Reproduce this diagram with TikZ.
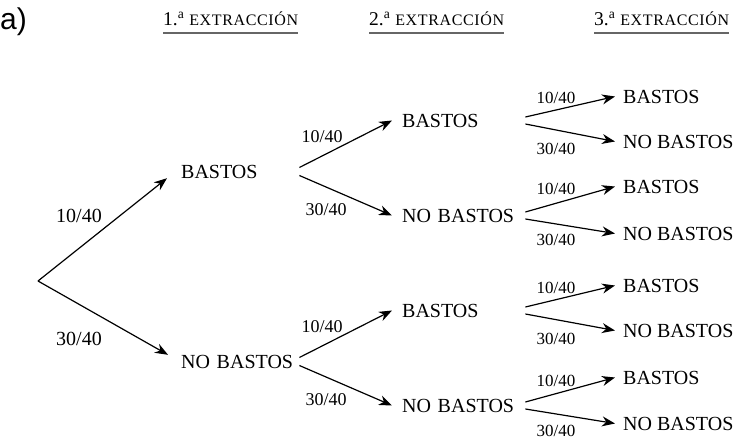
\documentclass[tikz,border=0pt]{standalone}
\usepackage{fontspec}
\setmainfont{Liberation Serif}
\newfontfamily\tagfont{Liberation Sans}
\usetikzlibrary{arrows.meta}

\tikzset{
	res/.style={font=\fontsize{20}{22}\selectfont, inner sep=0pt, text height=13pt, text depth=0pt, anchor=base west},
	fork1/.style={res, text width=118pt, align=left},
	fork2/.style={res, text width=123pt, align=left},
	prob/.style={font=\fontsize{#1}{#1}\selectfont, inner sep=0pt, anchor=base},
	arr/.style={-{Stealth[length=13pt,width=10pt]}, line width=1.2pt},
	hdr/.style={font=\fontsize{19.5}{22}\selectfont, inner sep=0pt, anchor=base west},
	rule/.style={draw=black!60, line width=2pt}
}
\newcommand{\extr}[1]{#1.\textsuperscript{a} {\fontsize{16}{18}\selectfont\addfontfeature{LetterSpace=4}EXTRACCIÓN}}

\begin{document}
\begin{tikzpicture}[x=1pt,y=-1pt]
	\useasboundingbox (0,0) rectangle (740,439);

	% cabecera
	\node[font=\tagfont\fontsize{30}{32}\selectfont, inner sep=0pt, anchor=base west] (tag) at (0,29) {a)};
	\node[hdr] (h1) at (163,26) {\extr{1}};
	\node[hdr] (h2) at (369,26) {\extr{2}};
	\node[hdr] (h3) at (594,26) {\extr{3}};
	\path[rule] ([yshift=-7pt]h1.south west) edge ([yshift=-7pt]h1.south east);
	\path[rule] ([yshift=-7pt]h2.south west) edge ([yshift=-7pt]h2.south east);
	\path[rule] ([yshift=-7pt]h3.south west) edge ([yshift=-7pt]h3.south east);

	\coordinate (o) at (38,281);

	% 1.a extraccion
	\node[fork1] (b) at (181,178) {BASTOS};
	\node[fork1] (n) at (181,368) {NO BASTOS};

	% 2.a extraccion
	\node[fork2] (bb) at (402,127) {BASTOS};
	\node[fork2] (bn) at (402,222) {NO BASTOS};
	\node[fork2] (nb) at (402,317) {BASTOS};
	\node[fork2] (nn) at (402,412) {NO BASTOS};

	% 3.a extraccion
	\node[res] (bbb) at (623,103) {BASTOS};
	\node[res] (bbn) at (623,148) {NO BASTOS};
	\node[res] (bnb) at (623,193) {BASTOS};
	\node[res] (bnn) at (623,240) {NO BASTOS};
	\node[res] (nbb) at (623,292) {BASTOS};
	\node[res] (nbn) at (623,337) {NO BASTOS};
	\node[res] (nnb) at (623,384) {BASTOS};
	\node[res] (nnn) at (623,430) {NO BASTOS};

	% probabilidades
	\node[prob=20] (p) at (79,222) {10/40};
	\node[prob=20] (q) at (79,345) {30/40};
	\node[prob=18] (bp) at (322,142) {10/40};
	\node[prob=18] (bq) at (326,215) {30/40};
	\node[prob=18] (np) at (322,332) {10/40};
	\node[prob=18] (nq) at (326,405) {30/40};
	\node[prob=17] (bbp) at (556,103) {10/40};
	\node[prob=17] (bbq) at (556,154) {30/40};
	\node[prob=17] (bnp) at (556,194) {10/40};
	\node[prob=17] (bnq) at (556,245) {30/40};
	\node[prob=17] (nbp) at (556,293) {10/40};
	\node[prob=17] (nbq) at (556,344) {30/40};
	\node[prob=17] (nnp) at (556,386) {10/40};
	\node[prob=17] (nnq) at (556,436) {30/40};

	\path[arr] (o) edge ([xshift=-14pt]b.south west);
	\path[arr] (o) edge ([xshift=-13pt]n.north west);

	\path[arr] ([yshift=4pt]b.east) edge ([xshift=-10pt]bb.west);
	\path[arr] ([yshift=-4pt]b.east) edge ([xshift=-10pt]bn.west);
	\path[arr] ([yshift=4pt]n.east) edge ([xshift=-10pt]nb.west);
	\path[arr] ([yshift=-4pt]n.east) edge ([xshift=-10pt]nn.west);

	\path[arr] ([yshift=3.5pt]bb.east) edge ([xshift=-8pt]bbb.west);
	\path[arr] ([yshift=-3.5pt]bb.east) edge ([xshift=-8pt]bbn.west);
	\path[arr] ([yshift=3.5pt]bn.east) edge ([xshift=-8pt]bnb.west);
	\path[arr] ([yshift=-3.5pt]bn.east) edge ([xshift=-8pt]bnn.west);
	\path[arr] ([yshift=3.5pt]nb.east) edge ([xshift=-8pt]nbb.west);
	\path[arr] ([yshift=-3.5pt]nb.east) edge ([xshift=-8pt]nbn.west);
	\path[arr] ([yshift=3.5pt]nn.east) edge ([xshift=-8pt]nnb.west);
	\path[arr] ([yshift=-3.5pt]nn.east) edge ([xshift=-8pt]nnn.west);
\end{tikzpicture}
\end{document}
